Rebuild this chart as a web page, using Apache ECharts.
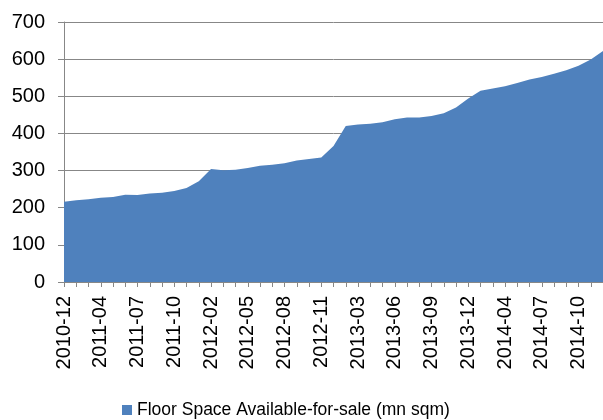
<!DOCTYPE html>
<html>
<head>
<meta charset="utf-8">
<script src="https://cdn.jsdelivr.net/npm/echarts@6/dist/echarts.min.js"></script>
<style>
  html, body { margin: 0; padding: 0; background: #fff; }
  #chart { width: 603px; height: 420px; }
</style>
</head>
<body>
<div id="chart"></div>
<script>
// months (Jan is reported together with Feb, so no -01)
var months = [
  '2010-12',
  '2011-02', '2011-03', '2011-04', '2011-05', '2011-06', '2011-07', '2011-08', '2011-09', '2011-10', '2011-11', '2011-12',
  '2012-02', '2012-03', '2012-04', '2012-05', '2012-06', '2012-07', '2012-08', '2012-09', '2012-10', '2012-11', '2012-12',
  '2013-02', '2013-03', '2013-04', '2013-05', '2013-06', '2013-07', '2013-08', '2013-09', '2013-10', '2013-11', '2013-12',
  '2014-02', '2014-03', '2014-04', '2014-05', '2014-06', '2014-07', '2014-08', '2014-09', '2014-10', '2014-11', '2014-12'
];
var floorSpace = [
  216,
  220, 223, 227, 229, 235, 234, 238, 240, 245, 253, 271,
  304, 301, 302, 307, 313, 316, 320, 327, 331, 335, 366,
  420, 424, 426, 430, 438, 443, 443, 447, 454, 470, 494,
  515, 521, 527, 536, 545, 552, 561, 570, 582, 599, 622
];
var seriesName = 'Floor Space Available-for-sale (mn sqm)';
var yTicks = { min: 0, max: 700, step: 100 };

var font = 'Liberation Sans, Arial, Helvetica, sans-serif';
var gridGray = '#878787';

var chart = echarts.init(document.getElementById('chart'));
chart.setOption({
  animation: false,
  grid: { left: 64, top: 22, width: 540, bottom: 138 },
  legend: {
    data: [seriesName],
    left: 117,
    top: 396,
    icon: 'rect',
    itemWidth: 10,
    itemHeight: 10,
    textStyle: { color: '#000', fontSize: 17.5, fontFamily: font }
  },
  xAxis: {
    type: 'category',
    data: months,
    boundaryGap: false,
    axisLine: { lineStyle: { color: gridGray, width: 1 } },
    axisTick: { show: true, interval: 0, length: 5, lineStyle: { color: gridGray } },
    axisLabel: {
      interval: 2,
      rotate: 90,
      margin: 14,
      color: '#000',
      fontSize: 20,
      fontFamily: font
    },
    splitLine: { show: false }
  },
  yAxis: {
    type: 'value',
    min: yTicks.min,
    max: yTicks.max,
    interval: yTicks.step,
    axisLine: { show: true, lineStyle: { color: gridGray, width: 1 } },
    axisTick: { show: true, length: 6, lineStyle: { color: gridGray } },
    axisLabel: { margin: 19, color: '#000', fontSize: 20, fontFamily: font },
    splitLine: { lineStyle: { color: gridGray, width: 1 } }
  },
  series: [{
    name: seriesName,
    type: 'line',
    data: floorSpace,
    symbol: 'none',
    lineStyle: { width: 0 },
    itemStyle: { color: '#4F81BD' },
    areaStyle: { color: '#4F81BD', opacity: 1 }
  }]
});
</script>
</body>
</html>
